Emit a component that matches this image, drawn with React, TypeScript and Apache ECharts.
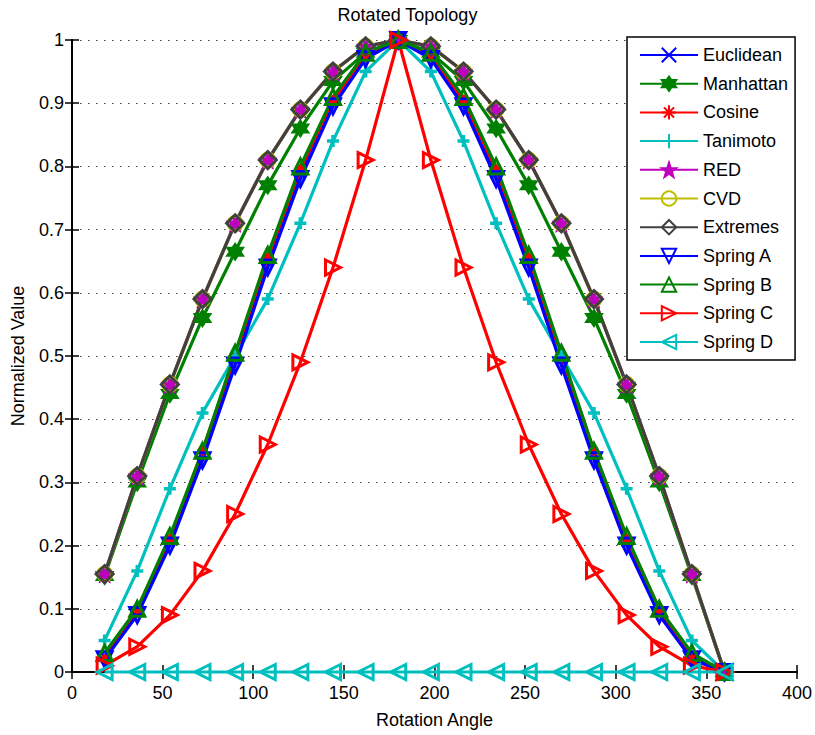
import React, { useEffect, useRef } from "react";
import * as echarts from "echarts";

const angles = [18, 36, 54, 72, 90, 108, 126, 144, 162, 180, 198, 216, 234, 252, 270, 288, 306, 324, 342, 360];
const euclidean = [0.025, 0.095, 0.205, 0.345, 0.495, 0.65, 0.79, 0.9, 0.975, 1, 0.975, 0.9, 0.79, 0.65, 0.495, 0.345, 0.205, 0.095, 0.025, 0];
const manhattan = [0.152, 0.3, 0.44, 0.56, 0.665, 0.77, 0.86, 0.935, 0.98, 1, 0.98, 0.935, 0.86, 0.77, 0.665, 0.56, 0.44, 0.3, 0.152, 0];
const cosine = [0.02, 0.1, 0.21, 0.35, 0.5, 0.655, 0.795, 0.905, 0.975, 1, 0.975, 0.905, 0.795, 0.655, 0.5, 0.35, 0.21, 0.1, 0.02, 0];
const tanimoto = [0.05, 0.16, 0.29, 0.41, 0.5, 0.59, 0.71, 0.84, 0.95, 1, 0.95, 0.84, 0.71, 0.59, 0.5, 0.41, 0.29, 0.16, 0.05, 0];
const red = [0.155, 0.31, 0.455, 0.59, 0.71, 0.81, 0.89, 0.95, 0.99, 1, 0.99, 0.95, 0.89, 0.81, 0.71, 0.59, 0.455, 0.31, 0.155, 0];
const cvd = [0.155, 0.31, 0.455, 0.59, 0.71, 0.81, 0.89, 0.95, 0.99, 1, 0.99, 0.95, 0.89, 0.81, 0.71, 0.59, 0.455, 0.31, 0.155, 0];
const extremes = [0.155, 0.31, 0.455, 0.59, 0.71, 0.81, 0.89, 0.95, 0.99, 1, 0.99, 0.95, 0.89, 0.81, 0.71, 0.59, 0.455, 0.31, 0.155, 0];
const springA = [0.02, 0.09, 0.2, 0.335, 0.485, 0.64, 0.78, 0.895, 0.97, 1, 0.97, 0.895, 0.78, 0.64, 0.485, 0.335, 0.2, 0.09, 0.02, 0];
const springB = [0.03, 0.1, 0.215, 0.35, 0.505, 0.66, 0.8, 0.91, 0.98, 1, 0.98, 0.91, 0.8, 0.66, 0.505, 0.35, 0.215, 0.1, 0.03, 0];
const springC = [0.01, 0.04, 0.09, 0.16, 0.25, 0.36, 0.49, 0.64, 0.81, 1, 0.81, 0.64, 0.49, 0.36, 0.25, 0.16, 0.09, 0.04, 0.01, 0];
const springD = [0, 0, 0, 0, 0, 0, 0, 0, 0, 0, 0, 0, 0, 0, 0, 0, 0, 0, 0, 0];

const FONT = "'Liberation Sans', Arial, Helvetica, sans-serif";

const SYM = {
  cross: "path://M0,0L10,10M10,0L0,10",
  plus: "path://M5,0L5,10M0,5L10,5",
  star: "path://M5,0L5,10M0,5L10,5M1.5,1.5L8.5,8.5M8.5,1.5L1.5,8.5",
  hexagram: "path://M5,0L9.33,7.5L0.67,7.5ZM5,10L0.67,2.5L9.33,2.5Z",
  pentagram:
    "path://M5,0L6.176,3.382L9.755,3.455L6.902,5.618L7.939,9.045L5,7L2.061,9.045L3.098,5.618L0.245,3.455L3.824,3.382Z",
  diamond: "path://M5,0L10,5L5,10L0,5Z",
  circle: "circle",
  triUp: "path://M5,0L10,9L0,9Z",
  triDown: "path://M0,0L10,0L5,9Z",
  triRight: "path://M0,0L9,5L0,10Z",
  triLeft: "path://M9,0L0,5L9,10Z",
};

function mk(name: string, values: number[], color: string, symbol: string, size: number, hollow: boolean, bw: number) {
  return {
    name,
    type: "line",
    data: angles.map((a, i) => [a, values[i]]),
    symbol,
    symbolSize: size,
    showAllSymbol: true,
    clip: false,
    lineStyle: { color, width: 3.2 },
    itemStyle: {
      color: hollow ? "rgba(0,0,0,0)" : color,
      borderColor: color,
      borderWidth: bw,
    },
    emphasis: { disabled: true },
  };
}

export default function App() {
  const ref = useRef<HTMLDivElement>(null);
  useEffect(() => {
    const chart = echarts.init(ref.current!, null, { renderer: "svg" });
    const axisLabel = { color: "#000", fontSize: 18, fontFamily: FONT };
    const axisLine = { show: true, lineStyle: { color: "#000", width: 2 } };
    const axisTick = { show: true, inside: true, length: 7, lineStyle: { color: "#000", width: 1.5 } };
    chart.setOption({
      animation: false,
      backgroundColor: "#fff",
      title: {
        text: "Rotated Topology",
        left: "center",
        top: 6,
        padding: 0,
        textStyle: { color: "#000", fontSize: 18, fontWeight: "normal", fontFamily: FONT },
      },
      grid: { left: 72, right: 18, top: 40, bottom: 63, containLabel: false },
      legend: {
        orient: "vertical",
        left: 627,
        top: 37,
        padding: [9, 7, 9, 12],
        itemWidth: 58,
        itemHeight: 18,
        itemGap: 10.7,
        borderColor: "#000",
        borderWidth: 1.5,
        backgroundColor: "#fff",
        textStyle: { color: "#000", fontSize: 18, fontFamily: FONT },
        selectedMode: false,
      },
      xAxis: [
        {
          type: "value",
          min: 0,
          max: 400,
          interval: 50,
          position: "bottom",
          axisLine,
          axisTick,
          axisLabel: { ...axisLabel, margin: 12 },
          splitLine: { show: false },
          name: "Rotation Angle",
          nameLocation: "middle",
          nameGap: 39,
          nameTextStyle: { color: "#000", fontSize: 18, fontFamily: FONT },
        },
        {
          type: "value",
          min: 0,
          max: 400,
          interval: 50,
          position: "top",
          axisLine,
          axisTick,
          axisLabel: { show: false },
          splitLine: { show: false },
        },
      ],
      yAxis: [
        {
          type: "value",
          min: 0,
          max: 1,
          interval: 0.1,
          position: "left",
          axisLine,
          axisTick,
          axisLabel: { ...axisLabel, margin: 8 },
          splitLine: { show: true, lineStyle: { color: "#444", width: 1, type: [1.5, 6.5] } },
          name: "Normalized Value",
          nameLocation: "middle",
          nameGap: 45,
          nameTextStyle: { color: "#000", fontSize: 18, fontFamily: FONT },
        },
        {
          type: "value",
          min: 0,
          max: 1,
          interval: 0.1,
          position: "right",
          axisLine,
          axisTick,
          axisLabel: { show: false },
          splitLine: { show: false },
        },
      ],
      series: [
        mk("Euclidean", euclidean, "#0000ff", SYM.cross, 9, false, 3),
        mk("Manhattan", manhattan, "#008000", SYM.hexagram, 16, false, 2),
        mk("Cosine", cosine, "#ff0000", SYM.star, 10, false, 3),
        mk("Tanimoto", tanimoto, "#00bfbf", SYM.plus, 12, false, 3.5),
        mk("RED", red, "#bf00bf", SYM.pentagram, 18, false, 1),
        mk("CVD", cvd, "#bfbf00", SYM.circle, 14, true, 3),
        mk("Extremes", extremes, "#404040", SYM.diamond, 17, true, 3),
        mk("Spring A", springA, "#0000ff", SYM.triDown, 15, true, 3),
        mk("Spring B", springB, "#008000", SYM.triUp, 15, true, 3),
        mk("Spring C", springC, "#ff0000", SYM.triRight, 15, true, 3),
        mk("Spring D", springD, "#00bfbf", SYM.triLeft, 15, true, 3),
      ],
    });
    return () => chart.dispose();
  }, []);
  return <div ref={ref} style={{ width: 815, height: 735, position: "absolute", left: 0, top: 0 }} />;
}
